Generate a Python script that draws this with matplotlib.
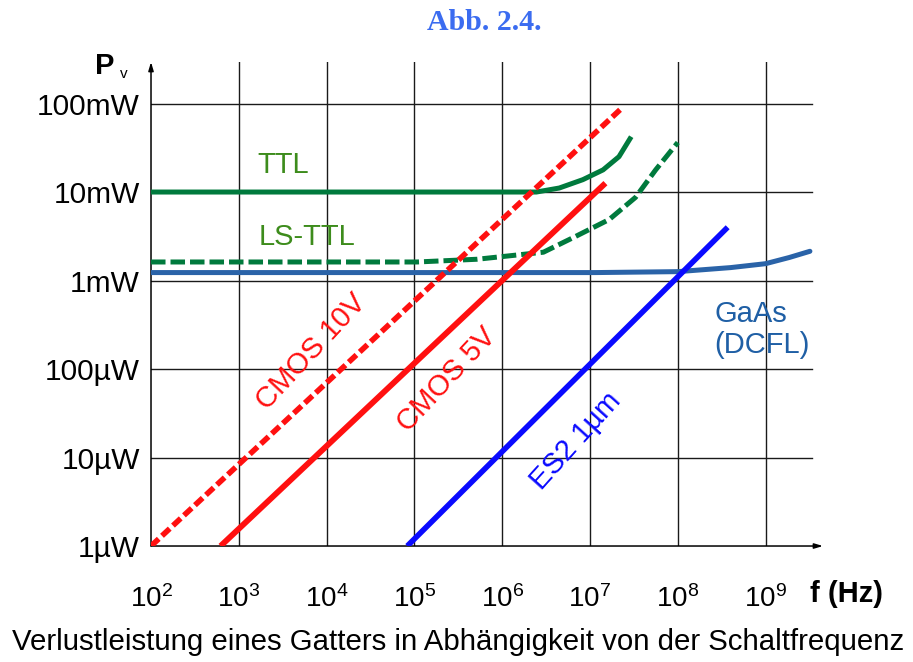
import matplotlib

matplotlib.use("Agg")

import matplotlib.pyplot as plt

plt.rcParams["font.family"] = ["Liberation Sans", "DejaVu Sans"]
plt.rcParams["mathtext.fontset"] = "custom"
plt.rcParams["mathtext.rm"] = "Liberation Sans"

# Verlustleistung P (W) über Schaltfrequenz f (Hz)
cmos10_f = [1e2, 2.2e7]
cmos10_p = [1e-6, 8.5e-2]

cmos5_f = [6.2e2, 1.5e7]
cmos5_p = [1e-6, 1.26e-2]

es2_f = [8.3e4, 3.7e8]
es2_p = [1e-6, 4.0e-3]

ttl_f = [1e2, 2.45e6, 4.47e6, 8.3e6, 1.41e7, 2.14e7, 2.95e7]
ttl_p = [1.0e-2, 1.0e-2, 1.11e-2, 1.38e-2, 1.78e-2, 2.51e-2, 4.22e-2]

lsttl_f = [1e2, 1.07e5, 5.2e5, 2.95e6, 6.9e6, 1.66e7, 3.3e7, 5.6e7, 1.0e8]
lsttl_p = [1.62e-3, 1.62e-3, 1.74e-3, 2.09e-3, 3.16e-3, 4.9e-3, 8.7e-3, 1.78e-2, 3.63e-2]

gaas_f = [1e2, 1.17e7, 1.0e8, 4.0e8, 1.0e9, 1.86e9, 3.2e9]
gaas_p = [1.23e-3, 1.23e-3, 1.26e-3, 1.40e-3, 1.55e-3, 1.82e-3, 2.14e-3]

x_ticks = [1e2, 1e3, 1e4, 1e5, 1e6, 1e7, 1e8, 1e9]
x_labels = [r"$\mathregular{10^{%d}}$" % e for e in range(2, 10)]
y_ticks = [1e-6, 1e-5, 1e-4, 1e-3, 1e-2, 1e-1]
y_labels = ["1µW", "10µW", "100µW", "1mW", "10mW", "100mW"]

fig = plt.figure(figsize=(9.13, 6.62), dpi=100)
ax = fig.add_axes([0.1654, 0.1752, 0.736, 0.7311])
ax.set_xscale("log")
ax.set_yscale("log")
x_max = 10 ** 9.654
y_max = 10 ** -0.531
ax.set_xlim(1e2, x_max)
ax.set_ylim(1e-6, y_max)

# Raster
for x in x_ticks[1:]:
    ax.plot([x, x], [1e-6, y_max], color="#1a1a1a", lw=1.0, zorder=1)
for y in y_ticks[1:]:
    ax.plot([1e2, 10 ** 9.53], [y, y], color="#1a1a1a", lw=1.0, zorder=1)

for s in ax.spines.values():
    s.set_visible(False)

# Achsen mit Pfeilspitzen
arrow = dict(arrowstyle="-|>,head_length=0.5,head_width=0.15", lw=1.1,
             color="black", shrinkA=0, shrinkB=0)
ax.annotate("", xy=(1.0, 0.0), xytext=(0.0, 0.0), xycoords="axes fraction",
            arrowprops=arrow, zorder=2)
ax.annotate("", xy=(0.0, 1.0), xytext=(0.0, 0.0), xycoords="axes fraction",
            arrowprops=arrow, zorder=2)

green = "#007a3d"
red = "#ff1010"
blue = "#0a0aff"
gaas_blue = "#2a63a8"

ax.plot(gaas_f, gaas_p, color=gaas_blue, lw=3.6, solid_capstyle="round",
        solid_joinstyle="round", zorder=3)
ax.plot(ttl_f, ttl_p, color=green, lw=3.6, solid_capstyle="butt",
        solid_joinstyle="round", zorder=3)
ax.plot(lsttl_f, lsttl_p, color=green, lw=3.6, linestyle=(0, (2.9, 1.0)),
        dash_capstyle="butt", zorder=3)
ax.plot(cmos10_f, cmos10_p, color=red, lw=4.0, linestyle=(0, (1.9, 0.8)),
        dash_capstyle="butt", zorder=4)
ax.plot(cmos5_f, cmos5_p, color=red, lw=4.2, solid_capstyle="butt", zorder=4)
ax.plot(es2_f, es2_p, color=blue, lw=4.0, solid_capstyle="butt", zorder=4)

# Kurvenbeschriftungen
ax.text(10 ** 3.51, 10 ** -1.69, "TTL", color="#3d8c1c", fontsize=21,
        ha="center", va="center")
ax.text(10 ** 3.78, 10 ** -2.51, "LS-TTL", color="#3d8c1c", fontsize=21,
        ha="center", va="center")
ax.text(10 ** 3.83, 10 ** -3.81, "CMOS 10V", color=red, fontsize=21,
        rotation=47, ha="center", va="center", rotation_mode="anchor")
ax.text(10 ** 5.37, 10 ** -4.12, "CMOS 5V", color=red, fontsize=21,
        rotation=47, ha="center", va="center", rotation_mode="anchor")
ax.text(10 ** 6.84, 10 ** -4.81, "ES2 1µm", color=blue, fontsize=21,
        rotation=48, ha="center", va="center", rotation_mode="anchor")
ax.text(10 ** 8.42, 10 ** -3.55, "GaAs\n(DCFL)", color="#1f5fa5", fontsize=21,
        ha="left", va="center", linespacing=1.15)

ax.set_xticks(x_ticks)
ax.set_xticklabels(x_labels, fontsize=20)
ax.set_yticks(y_ticks)
ax.set_yticklabels(y_labels, fontsize=21.5)
ax.minorticks_off()
ax.tick_params(axis="both", length=0)
ax.tick_params(axis="x", pad=28)
ax.tick_params(axis="y", pad=8)

# Achsentitel
fig.text(846 / 913, 1 - 594 / 662, "f (Hz)", fontsize=21, fontweight="bold",
         ha="center", va="center")
fig.text(105 / 913, 1 - 66 / 662, "P", fontsize=21, fontweight="bold",
         ha="center", va="center")
fig.text(124 / 913, 1 - 74 / 662, "v", fontsize=11, ha="center", va="center")

fig.text(484 / 913, 1 - 23 / 662, "Abb. 2.4.", fontsize=21.5, fontweight="bold",
         family="Liberation Serif", color="#3b6cf0", ha="center", va="center")
fig.text(458 / 913, 1 - 642 / 662,
         "Verlustleistung eines Gatters in Abhängigkeit von der Schaltfrequenz",
         fontsize=21.2, ha="center", va="center")

fig.savefig("out.png", dpi=100)
plt.close(fig)
